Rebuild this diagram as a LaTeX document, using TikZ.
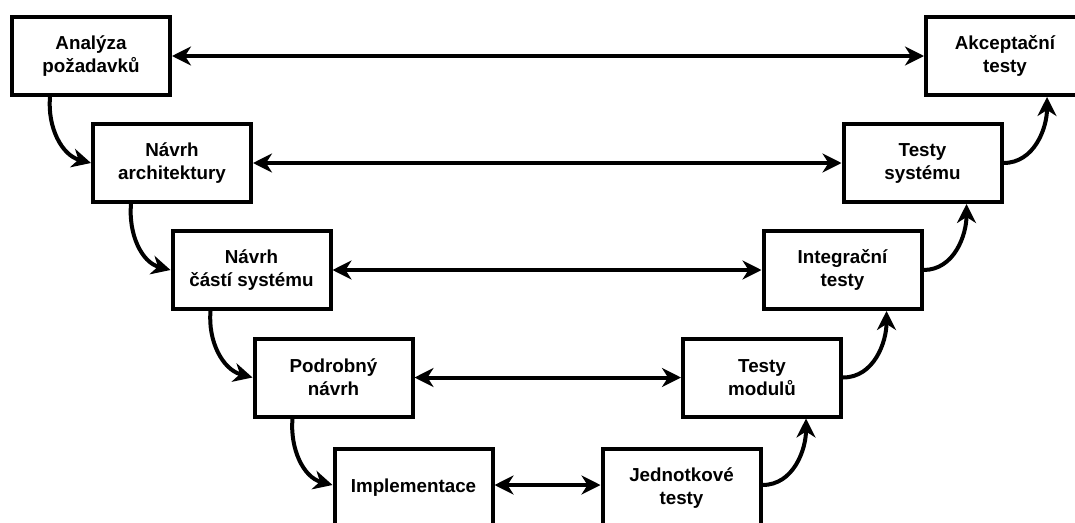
\documentclass[tikz,border=0pt]{standalone}
\usepackage{fontspec}
\setmainfont{Liberation Sans}
\usetikzlibrary{arrows.meta}
\begin{document}
\begin{tikzpicture}[x=1pt,y=1pt,
  box/.style={draw, line width=4pt, minimum width=158pt, minimum height=78pt,
    align=center, inner sep=0pt, font=\bfseries\fontsize{18.8}{23}\selectfont},
  tip/.tip={Stealth[length=19pt,width=19pt,inset=6pt]},
  conn/.style={line width=4pt, -tip},
  both/.style={line width=4pt, tip-tip}]
\useasboundingbox (0,0) rectangle (1075,-522);
\node[box] (a1) at (91,-56) {Analýza\\požadavků};
\node[box] (a2) at (172,-163) {Návrh\\architektury};
\node[box] (a3) at (251.5,-270) {Návrh\\částí systému};
\node[box] (a4) at (333.5,-377.5) {Podrobný\\návrh};
\node[box] (a5) at (413.5,-488) {Implementace};
\node[box] (b5) at (681.5,-488) {Jednotkové\\testy};
\node[box] (b4) at (762,-377.5) {Testy\\modulů};
\node[box] (b3) at (842.5,-270) {Integrační\\testy};
\node[box] (b2) at (922.5,-163) {Testy\\systému};
\node[box] (b1) at (1005,-56) {Akceptační\\testy};
\draw[both] (a1) -- (b1);
\draw[both] (a2) -- (b2);
\draw[both] (a3) -- (b3);
\draw[both] (a4) -- (b4);
\draw[both] ([yshift=3pt]a5.east) -- ([yshift=3pt]b5.west);
\draw[conn] ([xshift=40pt]a1.south west) to[out=-95,in=165] (a2.west);
\draw[conn] ([xshift=40pt]a2.south west) to[out=-95,in=165] (a3.west);
\draw[conn] ([xshift=40pt]a3.south west) to[out=-95,in=165] (a4.west);
\draw[conn] ([xshift=40pt]a4.south west) to[out=-95,in=165] ([yshift=3pt]a5.west);
\draw[conn] ([yshift=3pt]b5.east) to[out=0,in=-90] ([xshift=125pt]b4.south west);
\draw[conn] (b4.east) to[out=0,in=-90] ([xshift=125pt]b3.south west);
\draw[conn] (b3.east) to[out=0,in=-90] ([xshift=125pt]b2.south west);
\draw[conn] (b2.east) to[out=0,in=-90] ([xshift=123pt]b1.south west);
\end{tikzpicture}
\end{document}
